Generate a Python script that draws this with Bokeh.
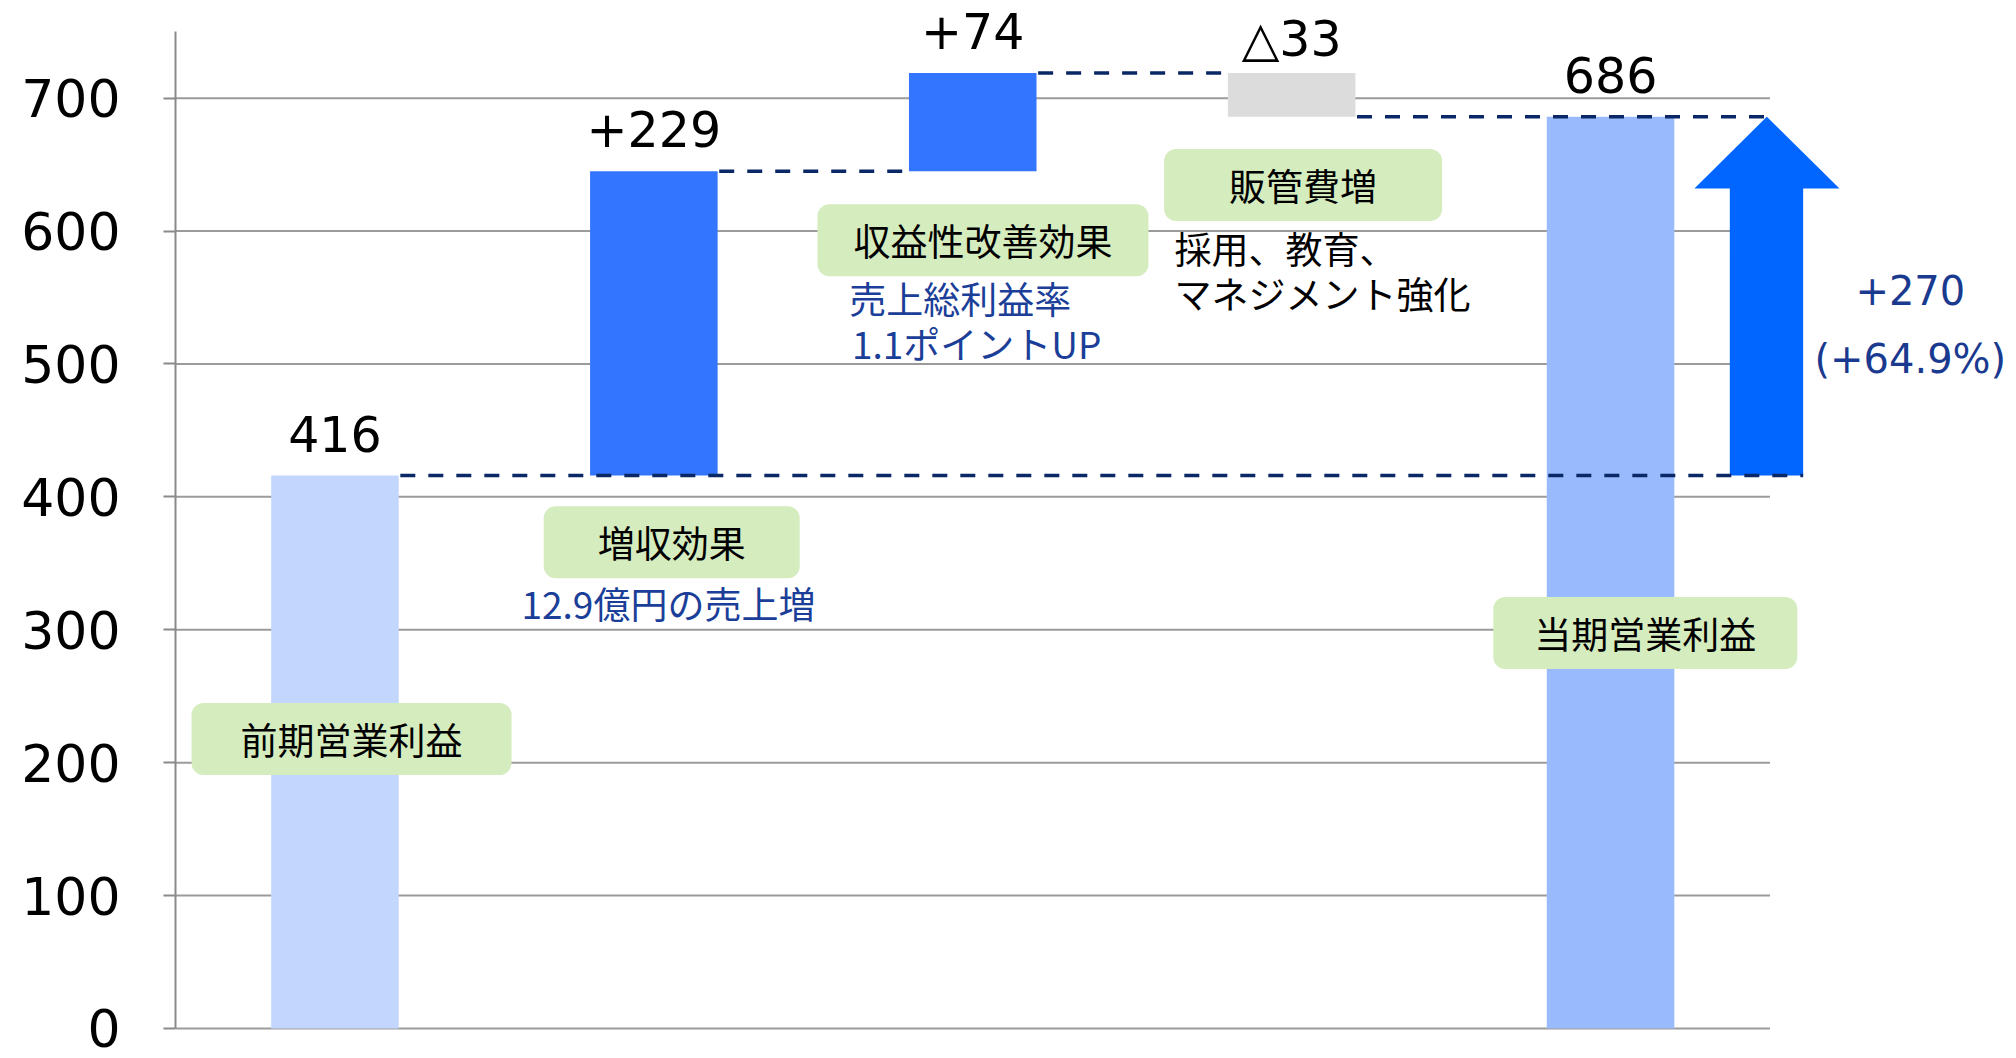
from bokeh.plotting import figure
from bokeh.models import Range1d, FixedTicker, ColumnDataSource
from bokeh.core.properties import value
from bokeh.embed import file_html
from bokeh.resources import INLINE

# ---------------- data ----------------
categories = ["前期営業利益", "増収効果", "収益性改善効果", "販管費増", "当期営業利益"]
amounts = [416, 229, 74, -33, 686]
kinds = ["total", "step", "step", "step", "total"]
value_labels = ["416", "+229", "+74", "△33", "686"]
y_ticks = [0, 100, 200, 300, 400, 500, 600, 700]
notes = ["12.9億円の売上増", "売上総利益率", "1.1ポイントUP", "採用、教育、", "マネジメント強化"]
diff_label = "+270"
diff_pct_label = "(+64.9%)"

# ---------------- styles / layout ----------------
bar_colors = ["#C3D6FD", "#3375FF", "#3375FF", "#DCDCDC", "#99BBFE"]
label_offsets = [-42, -42, -42, -33, -42]   # px above the bar top
BAR_W = 0.4
FONT_NUM = "DejaVu Sans"
FONT_JP = "Noto Sans CJK JP"
NAVY = "#0B2866"
BLUE_TXT = "#1B3F99"
GRID = "#9B9B9B"

centers = [i + 0.5 for i in range(len(categories))]
bottoms, tops = [], []
running = 0
for a, k in zip(amounts, kinds):
    if k == "total":
        bottoms.append(0)
        tops.append(a)
        running = a
    else:
        bottoms.append(running)
        tops.append(running + a)
        running = running + a
label_y = [max(b, t) for b, t in zip(bottoms, tops)]

p = figure(width=2016, height=1058,
           x_range=Range1d(0, 5.773), y_range=Range1d(-22.6, 773.5),
           output_backend="svg", toolbar_location=None,
           x_axis_location=None,
           min_border_left=175, min_border_right=0,
           min_border_top=0, min_border_bottom=0)
p.xgrid.visible = False
p.ygrid.visible = False
p.outline_line_color = None
p.background_fill_color = "white"

ax = p.yaxis[0]
ax.ticker = FixedTicker(ticks=y_ticks)
ax.bounds = (0, 750)
ax.axis_line_color = "#8A8A8A"
ax.axis_line_width = 2
ax.major_tick_line_color = "#8A8A8A"
ax.major_tick_line_width = 2
ax.major_tick_out = 12
ax.major_tick_in = 0
ax.minor_tick_line_color = None
ax.major_label_text_font = FONT_NUM
ax.major_label_text_font_size = "52px"
ax.major_label_text_color = "#000000"
ax.major_label_standoff = 43

# gridlines (only across the category area)
p.segment(x0=[0] * len(y_ticks), x1=[len(categories)] * len(y_ticks),
          y0=y_ticks, y1=y_ticks, line_color=GRID, line_width=2)

# bars
src = ColumnDataSource(dict(x=centers, bottom=bottoms, top=tops, color=bar_colors,
                            ly=label_y, lbl=value_labels, yoff=label_offsets))
p.vbar(x="x", width=BAR_W, bottom="bottom", top="top", fill_color="color",
       line_color=None, source=src)

# arrow (from first total to last total)
start_v, end_v = amounts[0], amounts[-1]
HEAD = 54
sh_l, sh_r, hd_l, hd_r, tip = 4.874, 5.104, 4.763, 5.218, 4.990
p.patch(x=[sh_l, sh_r, sh_r, hd_r, tip, hd_l, sh_l, sh_l],
        y=[start_v, start_v, end_v - HEAD, end_v - HEAD, end_v, end_v - HEAD, end_v - HEAD, start_v],
        fill_color="#0066FF", line_color=None)

# dashed connectors
cx0, cx1, cy = [], [], []
for i in range(len(categories) - 1):
    x0 = centers[i] + BAR_W / 2
    x1 = centers[i + 1] - BAR_W / 2
    if i == 0:
        x1 = sh_r
    if i == len(categories) - 2:
        x1 = tip + 0.01
    cx0.append(x0 + 0.005)
    cx1.append(x1)
    cy.append(tops[i])
p.segment(x0=cx0, x1=cx1, y0=cy, y1=cy, line_color=NAVY, line_width=3.5, line_dash="15 13")

# value labels
p.text(x="x", y="ly", text="lbl", source=src, text_font=value(FONT_NUM),
       text_font_size="49px", text_align="center", text_baseline="alphabetic",
       y_offset="yoff", text_color="#000000")

# green category boxes
box_pos = [(0.552, 217.8, 49), (1.556, 365.8, 54), (2.532, 593.1, 36),
           (3.536, 634.7, 65), (4.609, 297.5, 41)]
for name, (bx, by, padx) in zip(categories, box_pos):
    p.text(x=[bx], y=[by], text=[name], text_font=value(FONT_JP),
           text_font_size="37px", text_align="center", text_baseline="middle",
           text_color="#000000", background_fill_color="#D5ECBE",
           border_radius=12,
           padding=dict(left=padx, right=padx, top=9, bottom=9))

# notes
note_pos = [(1.085, 319.8), (2.113, 549.3), (2.121, 515.8), (3.133, 586.9), (3.133, 553.5)]
note_colors = [BLUE_TXT, BLUE_TXT, BLUE_TXT, "#000000", "#000000"]
p.text(x=[q[0] for q in note_pos], y=[q[1] for q in note_pos], text=notes,
       text_color=note_colors, text_font=value(FONT_JP), text_font_size="37px",
       text_align="left", text_baseline="middle")

# difference labels next to arrow
p.text(x=[5.44, 5.44], y=[555.3, 503.4], text=[diff_label, diff_pct_label],
       text_color="#1A3A8F", text_font=value(FONT_NUM), text_font_size="40px",
       text_align="center", text_baseline="middle")

open("out.html", "w").write(file_html(p, INLINE))
